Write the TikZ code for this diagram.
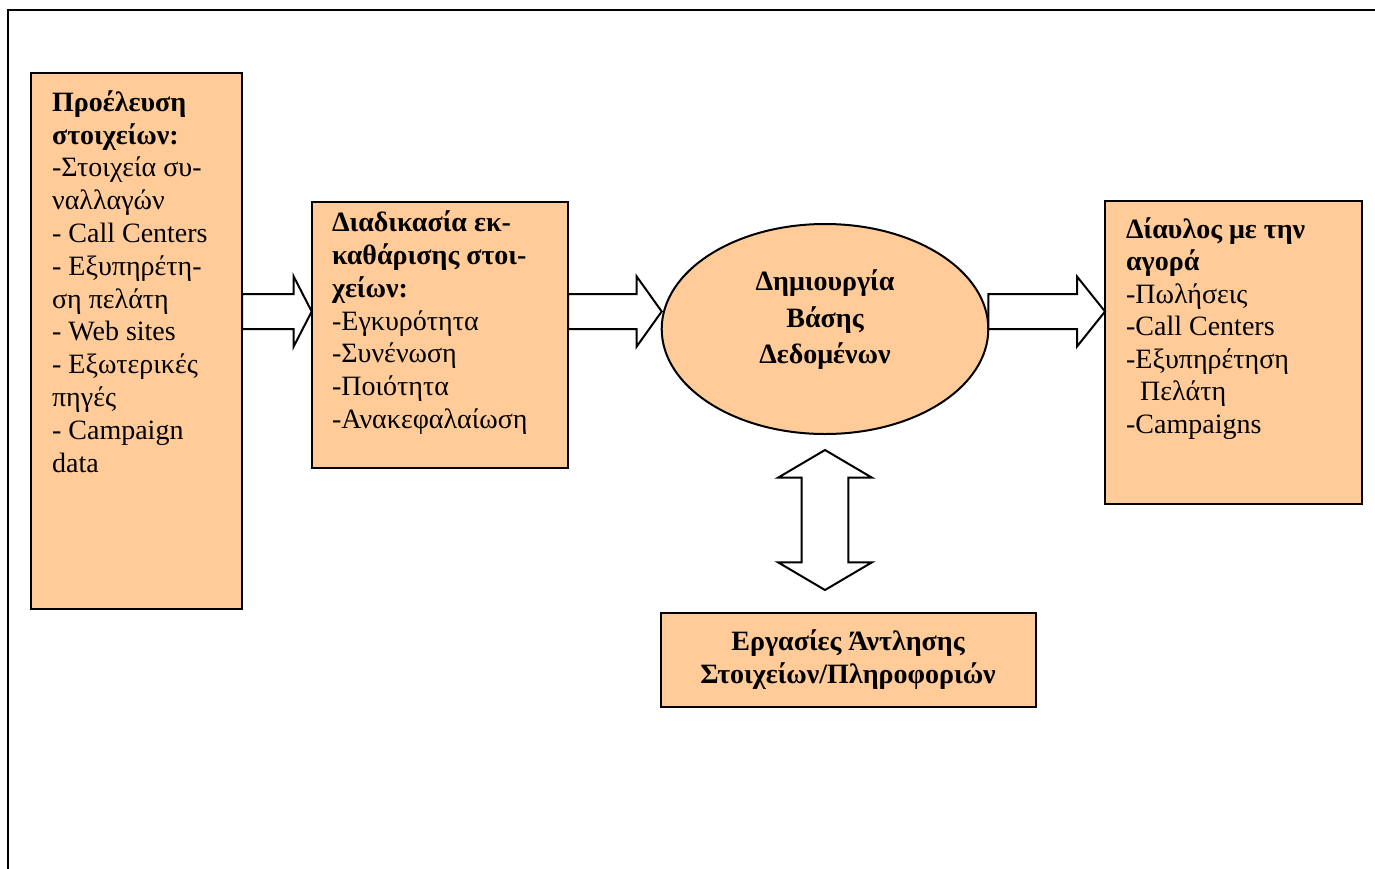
\documentclass[tikz,border=0pt]{standalone}
\usepackage{fontspec}
\setmainfont{Liberation Serif}
\usetikzlibrary{calc,shapes.geometric}
\definecolor{peach}{RGB}{255,204,153}
\tikzset{
  panel/.style={draw, line width=1pt, fill=peach, inner sep=0pt, outer sep=0pt},
  bodytext/.style={inner sep=0pt, align=left, anchor=north west,
    font=\fontsize{14}{16.4}\selectfont},
  blockarrow/.style={draw, line width=1pt, fill=white, line join=miter},
}
% horizontal block arrow: #1 tail point, #2 tip point, #3 head length
\newcommand\hblockarrow[3]{%
  \draw[blockarrow] let \p1=(#1), \p2=(#2) in
    (\x1,\y2+8.75pt) -- (\x2-#3,\y2+8.75pt) -- (\x2-#3,\y2+17.5pt) -- (\x2,\y2)
    -- (\x2-#3,\y2-17.5pt) -- (\x2-#3,\y2-8.75pt) -- (\x1,\y2-8.75pt) -- cycle;}
% vertical two-headed block arrow: #1 upper tip, #2 lower tip
\newcommand\vdoublearrow[2]{%
  \draw[blockarrow] let \p1=(#1), \p2=(#2) in
    (\x1,\y1) -- (\x1+23.5pt,\y1-13.85pt) -- (\x1+11.65pt,\y1-13.85pt)
    -- (\x1+11.65pt,\y2+13.85pt) -- (\x1+23.5pt,\y2+13.85pt) -- (\x1,\y2)
    -- (\x1-23.5pt,\y2+13.85pt) -- (\x1-11.65pt,\y2+13.85pt)
    -- (\x1-11.65pt,\y1-13.85pt) -- (\x1-23.5pt,\y1-13.85pt) -- cycle;}
\begin{document}
\begin{tikzpicture}[x=0.5pt, y=-0.5pt]
\useasboundingbox (0,0) rectangle (1375,868);

% page frame
\draw[line width=1pt] (8,880) -- (8,9.5) -- (1390,9.5);

% boxes
\node[panel, minimum width=105.5pt, minimum height=268pt] (src) at (136.5,341) {};
\node[panel, minimum width=128.15pt, minimum height=133pt] (clean) at (439.85,334.7) {};
\node[panel, ellipse, minimum width=163.3pt, minimum height=105pt] (db) at (825,329) {};
\node[panel, minimum width=128.65pt, minimum height=151.65pt] (market) at (1233.65,352.35) {};
\node[panel, minimum width=187.35pt, minimum height=47pt] (mining) at (848.35,660.3) {};

% flow arrows
\coordinate (row) at (0,311.5);
\hblockarrow{src.east |- row}{clean.west |- row}{9pt}
\hblockarrow{clean.east |- row}{db.west |- row}{12.5pt}
\hblockarrow{db.east |- row}{market.west |- row}{14pt}
\vdoublearrow{$(db.south)+(0,16)$}{$(db.south |- mining.north)+(0,-23.3)$}

% texts
\node[bodytext] (srctext) at (51.7,88) {\bfseries\strut Προέλευση\\
  \bfseries στοιχείων:\\
  -Στοιχεία συ-\\
  ναλλαγών\\
  - Call Centers\\
  - Εξυπηρέτη-\\
  ση πελάτη\\
  - Web sites\\
  - Εξωτερικές\\
  πηγές\\
  - Campaign\\
  data};

\node[bodytext, font=\fontsize{14}{16.35}\selectfont] (cleantext) at (331.7,208.7) {\bfseries\strut Διαδικασία εκ-\\
  \bfseries καθάρισης στοι-\\
  \bfseries χείων:\\
  -Εγκυρότητα\\
  -Συνένωση\\
  -Ποιότητα\\
  -Ανακεφαλαίωση};

\node[inner sep=0pt, align=center, anchor=north,
  font=\fontsize{14}{18.3}\selectfont\bfseries] (dbtext) at (825,264.4)
  {\strut Δημιουργία\\ Βάσης\\ Δεδομένων};

\node[bodytext, font=\fontsize{14}{16.25}\selectfont] (markettext) at (1125.7,215.3) {\bfseries\strut Δίαυλος με την\\
  \bfseries αγορά\\
  -Πωλήσεις\\
  -Call Centers\\
  -Εξυπηρέτηση\\
  \hspace*{7pt}Πελάτη\\
  -Campaigns};

\node[inner sep=0pt, align=center, anchor=north,
  font=\fontsize{14}{16.65}\selectfont\bfseries] (miningtext) at (848,626.7)
  {\strut Εργασίες Άντλησης\\ Στοιχείων/Πληροφοριών};
\end{tikzpicture}
\end{document}
